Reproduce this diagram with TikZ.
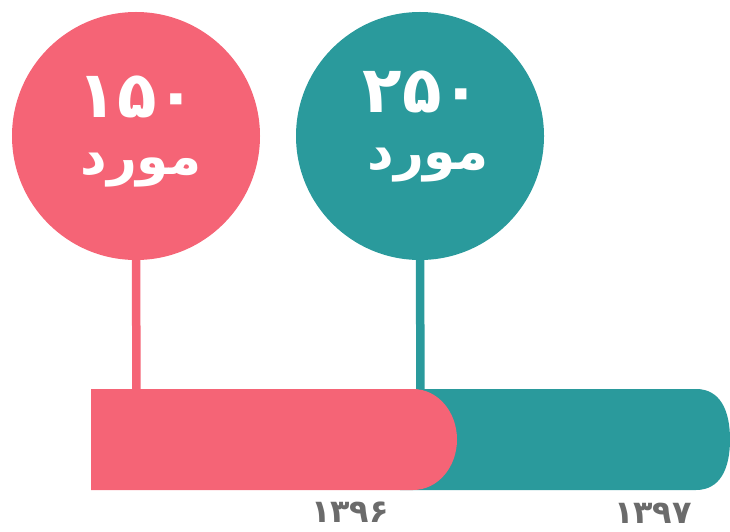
\documentclass[tikz,border=0pt]{standalone}
\usepackage{fontspec}
\TeXXeTstate=1
\newfontfamily\arabicfont[Script=Arabic]{DejaVu Sans}
\definecolor{pinkc}{HTML}{F56476}
\definecolor{tealc}{HTML}{2A9A9C}
\definecolor{yearc}{HTML}{6B6B6B}
\tikzset{
  bubble/.style={circle,minimum size=248bp,inner sep=0pt},
  stem/.style={line width=8.5bp},
  digits/.style={text=white,inner sep=0pt,font=\arabicfont\bfseries\fontsize{65}{65}\selectfont},
  word/.style={text=white,inner sep=0pt,font=\arabicfont\bfseries\fontsize{52}{52}\selectfont},
  yearlabel/.style={text=yearc,inner sep=0pt,font=\arabicfont\bfseries\fontsize{32}{32}\selectfont},
}
\begin{document}
\begin{tikzpicture}[x=1bp,y=-1bp]
\useasboundingbox (0,0) rectangle (730,532);
\node[bubble,fill=pinkc] (a) at (136,136) {};
\node[bubble,fill=tealc] (b) at (420,136) {};
\coordinate (a1) at (136.5,392);
\coordinate (b1) at (420.5,392);
\draw[stem,pinkc] (a.south) -- (a1);
\draw[stem,tealc] (b.south) -- (b1);
\fill[tealc] (400,389) -- (696,389) .. controls (720,389) and (730,410) .. (730,439.5) .. controls (730,469) and (720,490) .. (696,490) -- (400,490) -- cycle;
\fill[pinkc] (91,389) -- (413,389) .. controls (438,389) and (457,412) .. (457,439.5) .. controls (457,467) and (438,490) .. (413,490) -- (91,490) -- cycle;
\node[digits] (t1) at (137,97) {\beginR ۱۵۰\endR};
\node[word] (t2) at (141,170) {\beginR مورد\endR};
\node[digits] (t3) at (422,92) {\beginR ۲۵۰\endR};
\node[word] (t4) at (428,165) {\beginR مورد\endR};
\node[yearlabel] (y1) at (350,512) {\beginR ۱۳۹۶\endR};
\node[yearlabel] (y2) at (653,513) {\beginR ۱۳۹۷\endR};
\end{tikzpicture}
\end{document}
